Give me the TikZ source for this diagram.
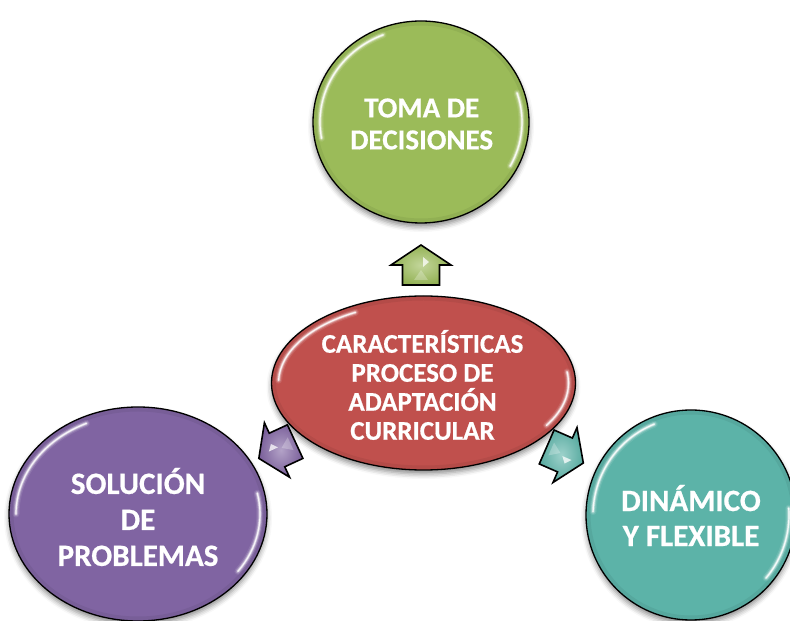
\documentclass[tikz,border=0pt]{standalone}
\usepackage{fontspec}
\setmainfont{Carlito}
\newfontfamily\heavy[FakeBold=0.6]{Carlito Bold}
\usetikzlibrary{shapes.geometric,shadows.blur,calc}
\definecolor{cgreen}{HTML}{9BBB59}
\definecolor{cred}{HTML}{C0504D}
\definecolor{cpurple}{HTML}{8064A2}
\definecolor{cteal}{HTML}{5CB3A8}
\tikzset{
  bubble/.style={ellipse, draw=black, line width=1.3pt, inner sep=0pt,
    blur shadow={shadow xshift=0pt, shadow yshift=-4pt, shadow blur radius=5pt, shadow opacity=45}},
  bubbletext/.style={text=white, align=center},
  blockarrow/.style={draw=black, line width=1.6pt, line join=miter},
}
\newcommand\glossarc[6]{%
  \foreach \w/\o in {7/0.10, 4.5/0.22, 2.6/0.45, 1.2/0.85}{%
    \draw[white, line width=\w pt, opacity=\o, line cap=round]
      ($(#1,#2)+(#5:#3 and #4)$) arc[start angle=#5, end angle=#6, x radius=#3, y radius=#4];
  }}
\newcommand\rimshade[4]{%
  \draw[black, opacity=0.06, line width=4pt] (#1,#2) ellipse [x radius=#3-2.5, y radius=#4-2.5];}
\newcommand\blockarr[4]{%
  \begin{scope}[shift={(#1,#2)}, rotate=#3]
    \draw[blockarrow, inner color=#4!60!white, outer color=#4!95!black]
      (20,0) -- (0,30) -- (0,18.5) -- (-20,18.5) -- (-20,-18.5) -- (0,-18.5) -- (0,-30) -- cycle;
    \fill[white, opacity=0.75] (8,-2) -- (-2,-2) -- (3,-8) -- cycle;
    \fill[white, opacity=0.25] (-5,0) -- (-15,7) -- (-15,-7) -- cycle;
  \end{scope}}
\begin{document}
\begin{tikzpicture}[x=1pt, y=1pt]
\useasboundingbox (0,0) rectangle (790,621);
% bubbles
\node[bubble, fill=cgreen, minimum width=216pt, minimum height=202pt] (top) at (421,499) {};
\node[bubble, fill=cred, minimum width=304pt, minimum height=174pt] (center) at (423.5,238) {};
\node[bubble, fill=cpurple, minimum width=258pt, minimum height=214pt] (left) at (138,107) {};
\node[bubble, fill=cteal, minimum width=210pt, minimum height=210pt] (right) at (691,106) {};
% rims and gloss
\rimshade{421}{499}{108}{101}
\rimshade{423.5}{238}{152}{87}
\rimshade{138}{107}{129}{107}
\rimshade{691}{106}{105}{105}
\glossarc{421}{499}{101}{94}{112}{190}
\glossarc{421}{499}{101}{94}{-28}{18}
\glossarc{423.5}{238}{145}{80}{118}{178}
\glossarc{423.5}{238}{145}{80}{-32}{8}
\glossarc{138}{107}{122}{100}{115}{180}
\glossarc{138}{107}{122}{100}{-35}{12}
\glossarc{691}{106}{98}{98}{112}{178}
\glossarc{691}{106}{98}{98}{-40}{4}
% texts
\node[bubbletext, font=\fontsize{29}{32}\selectfont\heavy] (toptext) at (421.7,497) {TOMA DE\\DECISIONES};
\node[bubbletext, font=\fontsize{27}{29}\selectfont\heavy] (centertext) at (422.5,236) {CARACTERÍSTICAS\\PROCESO DE\\ADAPTACIÓN\\CURRICULAR};
\node[bubbletext, font=\fontsize{31}{36}\selectfont\heavy] (lefttext) at (138,104) {SOLUCIÓN\\DE\\PROBLEMAS};
\node[bubbletext, font=\fontsize{31}{35}\selectfont\heavy] (righttext) at (691,105.5) {DINÁMICO\\Y FLEXIBLE};
% block arrows
\blockarr{421}{356}{90}{cgreen}
\blockarr{277}{171}{204.8}{cpurple}
\blockarr{565}{166}{-23.6}{cteal}
\end{tikzpicture}
\end{document}
